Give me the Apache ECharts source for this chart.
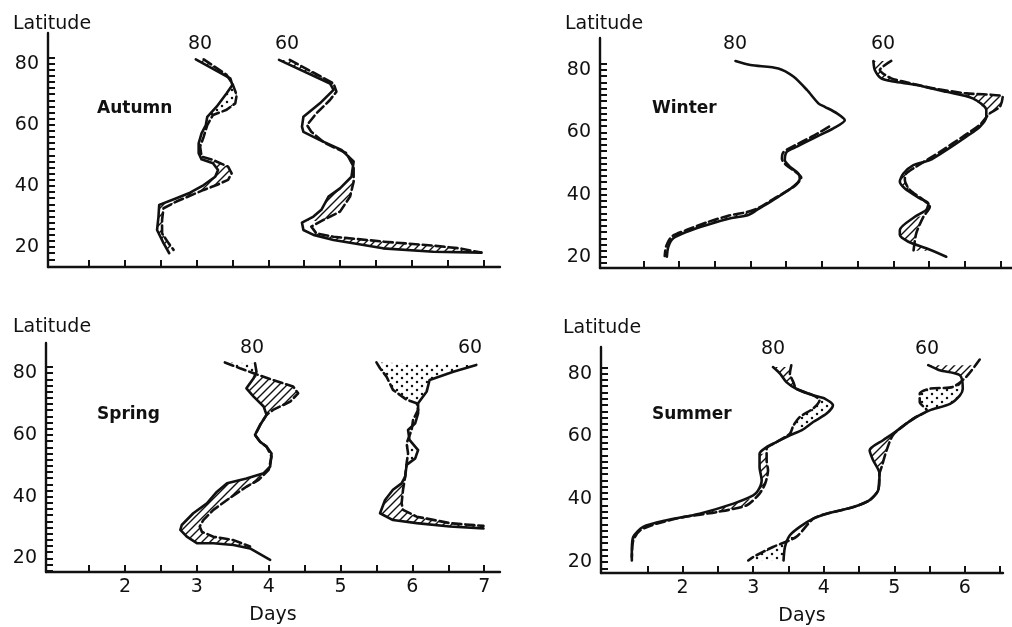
<!DOCTYPE html>
<html>
<head>
<meta charset="utf-8">
<script src="https://cdn.jsdelivr.net/npm/echarts@6/dist/echarts.min.js"></script>
<style>
html,body{margin:0;padding:0;background:#fff}
#chart{width:1012px;height:627px}
</style>
</head>
<body>
<div id="chart"></div>
<script>
// Profiles: [days, latitude]. Solid = one estimate, dashed = the other.
// ---- Autumn ----
const autumn80Solid = [[2.99,81.4],[3.47,75.2],[3.50,73.0],[3.42,70.3],[3.28,65.9],[3.15,62.6],[3.13,59.9],[3.07,57.2],[3.03,53.9],[3.03,50.7],[3.07,48.7],[3.23,47.4],[3.30,45.2],[3.26,43.0],[3.10,40.3],[2.91,37.8],[2.72,36.0],[2.48,33.8],[2.47,30.0],[2.45,25.6],[2.54,21.3],[2.62,18.0]];
const autumn80Dashed = [[3.10,81.4],[3.42,76.3],[3.50,73.5],[3.56,69.7],[3.54,67.0],[3.42,64.9],[3.23,63.2],[3.15,59.9],[3.10,56.1],[3.05,52.9],[3.07,49.6],[3.23,48.5],[3.44,46.3],[3.49,44.1],[3.44,42.0],[3.28,40.3],[3.10,38.7],[2.72,34.9],[2.54,32.7],[2.52,28.9],[2.52,24.5],[2.61,21.3],[2.68,19.1]];
const autumn80Hatch = [[81.4,74.0],[48.5,36.5],[34.5,18.5]];
const autumn80Dots = [[73.5,63.0]];

const autumn60Solid = [[4.15,81.2],[4.86,73.5],[4.91,71.4],[4.72,67.0],[4.49,62.6],[4.47,59.4],[4.49,57.7],[4.72,55.0],[5.02,51.8],[5.19,48.0],[5.16,43.0],[5.00,39.2],[4.84,36.5],[4.74,32.2],[4.63,30.0],[4.47,28.0],[4.49,25.6],[4.63,24.0],[4.91,22.3],[5.60,19.6],[6.30,18.5],[6.97,18.2]];
const autumn60Dashed = [[4.30,81.2],[4.91,73.5],[4.95,70.8],[4.86,68.1],[4.67,63.7],[4.54,59.9],[4.60,57.7],[4.79,54.0],[5.09,50.7],[5.19,46.3],[5.19,41.4],[5.14,36.5],[5.00,31.6],[4.77,28.9],[4.60,26.7],[4.67,24.5],[4.91,23.4],[5.60,21.8],[6.30,20.5],[6.67,19.6],[6.97,18.2]];
const autumn60Hatch = [[81.2,72.0],[43.0,28.5],[24.5,18.2]];
const autumn60Dots = [[56.0,47.0]];

// ---- Winter ----
const winter80Solid = [[2.79,82.9],[3.00,81.6],[3.39,80.5],[3.60,77.9],[3.79,73.6],[3.95,69.3],[4.04,68.2],[4.21,66.1],[4.32,63.9],[4.16,61.3],[3.88,58.1],[3.65,55.4],[3.51,53.8],[3.48,51.1],[3.55,49.0],[3.67,46.8],[3.69,45.2],[3.60,42.6],[3.32,38.3],[3.09,35.1],[2.97,33.5],[2.72,32.4],[2.39,30.3],[2.11,28.1],[1.92,26.0],[1.85,23.3],[1.83,20.1]];
const winter80Dashed = [[4.10,61.8],[3.85,58.5],[3.62,55.8],[3.46,53.6],[3.44,51.5],[3.50,49.5],[3.62,47.5],[3.71,45.5],[3.62,42.8],[3.32,38.6],[3.10,35.6],[2.95,34.4],[2.70,33.3],[2.40,31.2],[2.12,28.8],[1.90,26.6],[1.82,23.5],[1.80,20.3]];
const winter80Hatch = [[50.0,44.0],[34.5,25.0]];
const winter80Dots = [];

const winter60Solid = [[4.72,82.9],[4.74,80.0],[4.83,77.3],[5.00,76.3],[5.32,75.2],[5.74,73.0],[6.11,70.9],[6.30,67.2],[6.30,65.0],[6.21,61.8],[6.02,58.6],[5.74,54.3],[5.51,51.1],[5.28,49.5],[5.14,46.8],[5.09,44.2],[5.16,42.0],[5.37,38.8],[5.49,37.2],[5.46,35.1],[5.30,32.9],[5.09,28.7],[5.09,27.1],[5.21,24.9],[5.46,22.8],[5.74,20.1]];
const winter60Dashed = [[4.97,82.9],[4.81,80.0],[4.97,77.3],[5.14,76.3],[5.56,74.1],[6.02,72.5],[6.53,71.4],[6.49,68.2],[6.35,66.1],[6.21,62.4],[5.97,58.6],[5.69,54.3],[5.32,49.0],[5.18,46.8],[5.16,44.7],[5.23,41.5],[5.42,38.3],[5.51,36.1],[5.42,32.9],[5.32,27.6],[5.28,21.7]];
const winter60Hatch = [[82.9,76.3],[72.5,64.0],[47.0,41.5],[33.0,22.0]];
const winter60Dots = [[39.0,35.0]];

// ---- Spring ----
const spring80Solid = [[3.81,83.2],[3.83,80.5],[3.79,78.4],[3.69,75.1],[3.79,72.4],[3.93,69.2],[3.97,66.5],[3.88,63.2],[3.81,60.0],[3.88,57.8],[3.97,56.2],[4.04,54.0],[4.02,49.7],[3.93,47.6],[3.69,45.9],[3.42,44.3],[3.28,41.6],[3.14,37.8],[2.95,34.6],[2.79,30.8],[2.77,29.2],[2.86,27.0],[3.00,24.9],[3.23,24.9],[3.51,24.3],[3.74,23.2],[4.02,19.5]];
const spring80Dashed = [[3.39,83.5],[3.60,81.6],[3.79,80.0],[4.06,77.8],[4.34,75.7],[4.41,73.5],[4.30,70.8],[4.06,68.1],[3.97,66.5],[3.88,63.2],[3.81,60.0],[3.88,57.8],[3.97,56.2],[4.04,53.0],[4.00,48.7],[3.86,45.4],[3.69,43.2],[3.42,38.9],[3.23,35.7],[3.09,32.4],[3.04,30.3],[3.07,28.6],[3.23,27.0],[3.51,25.9],[3.74,23.8]];
const spring80Hatch = [[79.0,66.5],[50.0,23.5]];
const spring80Dots = [[83.5,80.0]];

const spring60Solid = [[6.89,82.7],[6.57,80.5],[6.24,77.8],[6.20,74.1],[6.08,70.3],[6.08,67.0],[6.04,63.8],[5.94,61.6],[5.96,58.4],[6.08,55.1],[6.04,52.4],[5.92,50.3],[5.90,46.5],[5.85,44.3],[5.73,42.2],[5.62,38.9],[5.55,34.6],[5.73,32.4],[6.06,31.4],[6.52,30.3],[6.99,29.7]];
const spring60Dashed = [[5.50,83.5],[5.55,81.6],[5.64,78.9],[5.73,74.6],[5.92,71.4],[6.06,70.3],[6.08,68.1],[6.01,64.9],[5.99,61.6],[5.92,57.3],[5.94,54.0],[5.92,50.8],[5.90,46.5],[5.87,42.2],[5.85,37.8],[5.87,35.7],[6.06,33.5],[6.52,31.4],[6.99,30.5]];
const spring60Hatch = [[44.0,30.0]];
const spring60Dots = [[83.5,69.0],[58.0,50.5]];

// ---- Summer ----
const summer80Solid = [[3.28,82.1],[3.38,80.0],[3.47,77.3],[3.61,75.2],[3.85,73.1],[4.02,72.0],[4.13,69.9],[4.04,67.3],[3.85,64.6],[3.69,62.0],[3.52,60.4],[3.33,58.2],[3.19,56.6],[3.09,54.5],[3.09,50.3],[3.12,46.0],[3.07,42.8],[3.00,41.2],[2.72,38.6],[2.24,35.4],[1.77,33.3],[1.44,31.2],[1.30,28.0],[1.28,23.7],[1.28,20.5]];
const summer80Dashed = [[3.54,82.7],[3.52,80.0],[3.57,77.3],[3.61,75.2],[3.85,73.1],[3.94,71.5],[3.85,68.9],[3.66,66.2],[3.57,63.5],[3.52,60.9],[3.33,58.2],[3.19,56.1],[3.19,52.4],[3.21,49.2],[3.17,45.0],[3.09,41.8],[2.91,38.1],[2.48,35.9],[2.01,34.3],[1.63,32.2],[1.40,30.1],[1.30,26.9],[1.28,21.6]];
const summer80Hatch = [[82.1,75.5],[54.5,41.5],[40.0,30.0]];
const summer80Dots = [[72.0,63.0]];

const summer60Solid = [[5.48,82.7],[5.64,81.1],[5.93,79.5],[5.97,75.2],[5.93,73.1],[5.79,70.4],[5.50,68.3],[5.31,66.2],[5.17,64.1],[4.98,60.9],[4.84,58.8],[4.65,55.6],[4.70,52.4],[4.79,48.2],[4.77,42.8],[4.65,39.7],[4.42,37.5],[4.04,35.4],[3.85,33.8],[3.66,31.2],[3.52,28.5],[3.45,24.8],[3.43,20.5]];
const summer60Dashed = [[6.21,84.5],[6.02,79.0],[5.83,75.8],[5.50,75.2],[5.36,73.6],[5.36,71.0],[5.46,68.3],[5.31,66.2],[5.17,64.1],[4.98,60.4],[4.89,55.6],[4.82,50.3],[4.79,48.2],[4.77,42.8],[4.65,39.7],[4.42,37.5],[4.04,35.4],[3.85,33.8],[3.61,28.0],[3.28,24.8],[3.00,21.6],[2.93,20.5]];
const summer60Hatch = [[82.7,76.0],[60.9,48.5]];
const summer60Dots = [[75.2,66.5],[28.0,20.5]];

// Axis ticks and labels
const latTicks = [16,18,20,22,24,26,28,30,32,34,36,38,40,42,44,46,48,50,52,54,56,58,60,62,64,66,68,70,72,74,76,78,80,82];
const latLabels = [20,40,60,80];
const dayTicksWide = [1.5,2,2.5,3,3.5,4,4.5,5,5.5,6,6.5,7];
const dayTicksNarrow = [1.5,2,2.5,3,3.5,4,4.5,5,5.5,6,6.5];
const dayLabelsWide = [2,3,4,5,6,7];
const dayLabelsNarrow = [2,3,4,5,6];
const seasons = ['Autumn','Winter','Spring','Summer'];
const profileNames = ['80','60'];

const INK = '#111111';
const FONT = "'DejaVu Sans', sans-serif";

// Fill patterns drawn on small canvases
function makeHatch() {
  const s = 8, c = document.createElement('canvas');
  c.width = s; c.height = s;
  const g = c.getContext('2d');
  g.strokeStyle = INK; g.lineWidth = 1.4; g.lineCap = 'square';
  g.beginPath();
  g.moveTo(0, s); g.lineTo(s, 0);
  g.moveTo(-2, 2); g.lineTo(2, -2);
  g.moveTo(s - 2, s + 2); g.lineTo(s + 2, s - 2);
  g.stroke();
  return c;
}
function makeDots() {
  const w = 10, h = 8, c = document.createElement('canvas');
  c.width = w; c.height = h;
  const g = c.getContext('2d');
  g.fillStyle = INK;
  [[2, 2], [7, 6]].forEach(p => { g.beginPath(); g.arc(p[0], p[1], 1.25, 0, Math.PI * 2); g.fill(); });
  return c;
}
const hatchPat = { image: makeHatch(), repeat: 'repeat' };
const dotPat = { image: makeDots(), repeat: 'repeat' };

// Point on a profile where it crosses the given latitude
function crossAt(line, lat) {
  for (let i = 0; i < line.length - 1; i++) {
    const [x0, y0] = line[i], [x1, y1] = line[i + 1];
    if (y0 !== y1 && (y0 - lat) * (y1 - lat) <= 0) {
      const t = (lat - y0) / (y1 - y0);
      return [x0 + t * (x1 - x0), lat];
    }
  }
  return null;
}
function band(line, hi, lo) {
  const out = [];
  const a = crossAt(line, hi);
  if (a) out.push(a);
  line.forEach(p => { if (p[1] < hi && p[1] > lo) out.push(p); });
  const b = crossAt(line, lo);
  if (b) out.push(b);
  return out;
}

function fillSeries(gi, solid, dashed, bands, pat) {
  return {
    type: 'custom', xAxisIndex: gi, yAxisIndex: gi, silent: true, z: 1,
    data: bands.map((b, i) => [i]),
    renderItem: function (params, api) {
      const b = bands[params.dataIndex];
      const pts = band(solid, b[0], b[1]).concat(band(dashed, b[0], b[1]).reverse())
        .map(p => api.coord(p));
      return { type: 'polygon', shape: { points: pts }, style: { fill: pat, stroke: null } };
    }
  };
}
function lineSeries(gi, data, dashed, smooth) {
  return {
    type: 'line', xAxisIndex: gi, yAxisIndex: gi, data: data, showSymbol: false,
    silent: true, z: 3, animation: false, smooth: smooth,
    lineStyle: { color: INK, width: 2.6, type: dashed ? [9, 4] : 'solid', join: 'round', cap: 'round' }
  };
}

const panels = [
  { grid: { left: 48, top: 33, width: 452, height: 234 }, x: [0.93, 7.23], y: [13.5, 90], ticks: dayTicksWide, labels: null, smooth: false,
    profiles: [[autumn80Solid, autumn80Dashed, autumn80Hatch, autumn80Dots], [autumn60Solid, autumn60Dashed, autumn60Hatch, autumn60Dots]] },
  { grid: { left: 600, top: 38, width: 412, height: 230 }, x: [0.894, 6.66], y: [16.47, 90.27], ticks: dayTicksNarrow, labels: null, smooth: 0.25,
    profiles: [[winter80Solid, winter80Dashed, winter80Hatch, winter80Dots], [winter60Solid, winter60Dashed, winter60Hatch, winter60Dots]] },
  { grid: { left: 46, top: 343, width: 454, height: 229 }, x: [0.90, 7.22], y: [15.56, 89.8], ticks: dayTicksWide, labels: dayLabelsWide, smooth: false,
    profiles: [[spring80Solid, spring80Dashed, spring80Hatch, spring80Dots], [spring60Solid, spring60Dashed, spring60Hatch, spring60Dots]] },
  { grid: { left: 601, top: 347, width: 402, height: 226 }, x: [0.843, 6.54], y: [16.5, 88.5], ticks: dayTicksNarrow, labels: dayLabelsNarrow, smooth: 0.25,
    profiles: [[summer80Solid, summer80Dashed, summer80Hatch, summer80Dots], [summer60Solid, summer60Dashed, summer60Hatch, summer60Dots]] }
];

const grids = [], xAxes = [], yAxes = [], series = [];
panels.forEach((p, gi) => {
  grids.push(Object.assign({ containLabel: false, outerBoundsMode: 'none' }, p.grid));
  xAxes.push({
    type: 'value', gridIndex: gi, min: p.x[0], max: p.x[1],
    name: p.labels ? 'Days' : '', nameLocation: 'middle', nameGap: 34,
    nameTextStyle: { color: INK, fontFamily: FONT, fontSize: 19 },
    axisLine: { show: true, onZero: false, lineStyle: { color: INK, width: 2.4 } },
    axisTick: { show: true, inside: true, length: 7, customValues: p.ticks, lineStyle: { color: INK, width: 2 } },
    axisLabel: { show: !!p.labels, customValues: p.labels || [], margin: 6, color: INK, fontFamily: FONT, fontSize: 19 },
    splitLine: { show: false }
  });
  yAxes.push({
    type: 'value', gridIndex: gi, min: p.y[0], max: p.y[1],
    axisLine: { show: true, onZero: false, lineStyle: { color: INK, width: 2.4 } },
    axisTick: { show: true, inside: true, length: 7, customValues: latTicks.filter(v => v > p.y[0] && v < p.y[1]), lineStyle: { color: INK, width: 2 } },
    axisLabel: { show: true, customValues: latLabels, margin: 9, color: INK, fontFamily: FONT, fontSize: 19 },
    splitLine: { show: false }
  });
  p.profiles.forEach(pr => {
    const [solid, dashed, hatch, dots] = pr;
    if (hatch.length) series.push(fillSeries(gi, solid, dashed, hatch, hatchPat));
    if (dots.length) series.push(fillSeries(gi, solid, dashed, dots, dotPat));
    series.push(lineSeries(gi, solid, false, p.smooth));
    series.push(lineSeries(gi, dashed, true, p.smooth));
  });
});

// Panel texts
function txt(x, y, s, opts) {
  return Object.assign({ type: 'text', x: x, y: y, silent: true,
    style: Object.assign({ text: s, fill: INK, font: '19px ' + FONT, align: 'center', verticalAlign: 'middle' }, opts || {}) });
}
const graphics = [
  txt(52, 24, 'Latitude'), txt(604, 24, 'Latitude'), txt(52, 327, 'Latitude'), txt(602, 328, 'Latitude'),
  txt(97, 109, seasons[0], { font: 'bold 17px ' + FONT, align: 'left' }),
  txt(652, 109, seasons[1], { font: 'bold 17px ' + FONT, align: 'left' }),
  txt(97, 415, seasons[2], { font: 'bold 17px ' + FONT, align: 'left' }),
  txt(652, 415, seasons[3], { font: 'bold 17px ' + FONT, align: 'left' }),
  txt(200, 44, profileNames[0]), txt(287, 44, profileNames[1]),
  txt(735, 44, profileNames[0]), txt(883, 44, profileNames[1]),
  txt(252, 348, profileNames[0]), txt(470, 348, profileNames[1]),
  txt(773, 349, profileNames[0]), txt(927, 349, profileNames[1])
];

const chart = echarts.init(document.getElementById('chart'), null, { renderer: 'canvas' });
chart.setOption({
  backgroundColor: '#ffffff',
  animation: false,
  grid: grids, xAxis: xAxes, yAxis: yAxes, series: series,
  graphic: { elements: graphics }
});
</script>
</body>
</html>
